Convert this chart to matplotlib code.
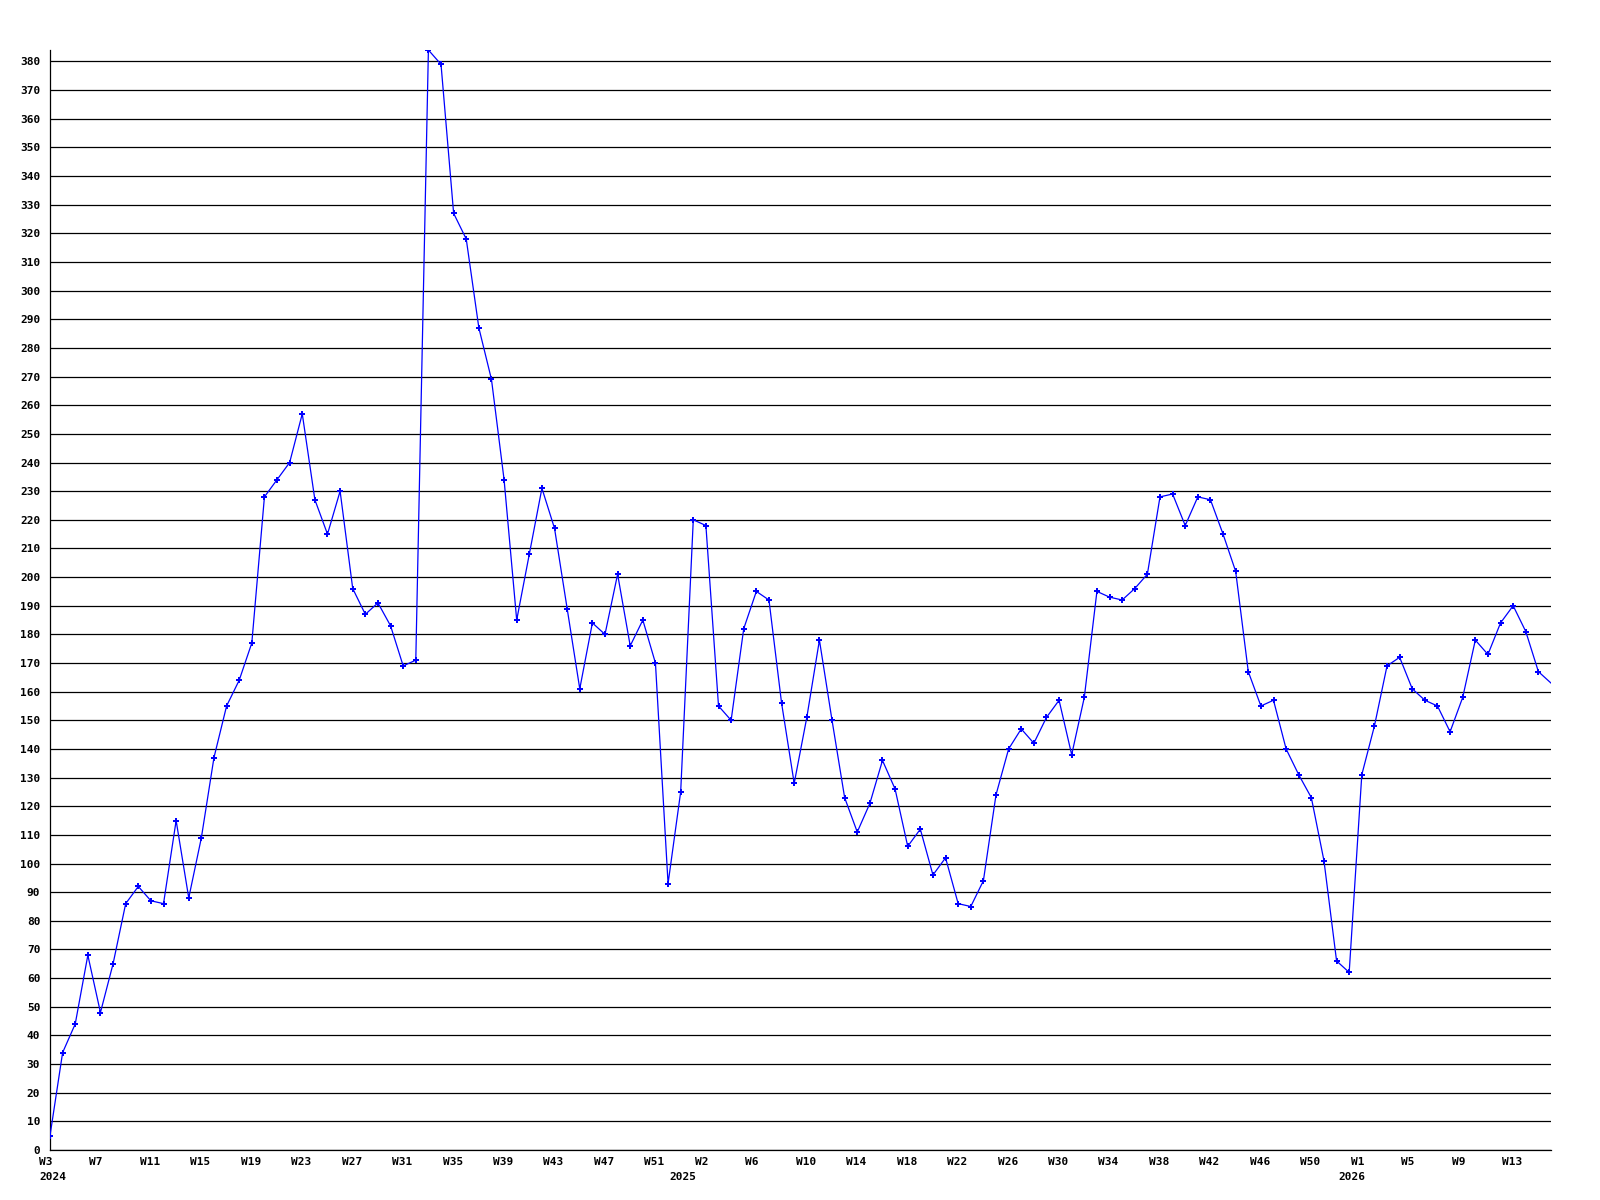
import numpy as np
import matplotlib
matplotlib.use("Agg")
import matplotlib.pyplot as plt

# ==============================
# Data (weekly counts, W3 2024 .. W16 2026)
# ==============================
years = [2024] * 51 + [2025] * 53 + [2026] * 16
weeks = list(range(3, 54)) + list(range(1, 54)) + list(range(1, 17))

values = [
    5, 34, 44, 68, 48, 65, 86, 92, 87, 86,
    115, 88, 109, 137, 155, 164, 177, 228, 234, 240,
    257, 227, 215, 230, 196, 187, 191, 183, 169, 171,
    384, 379, 327, 318, 287, 269, 234, 185, 208, 231,
    217, 189, 161, 184, 180, 201, 176, 185, 170, 93,
    125, 220, 218, 155, 150, 182, 195, 192, 156, 128,
    151, 178, 150, 123, 111, 121, 136, 126, 106, 112,
    96, 102, 86, 85, 94, 124, 140, 147, 142, 151,
    157, 138, 158, 195, 193, 192, 196, 201, 228, 229,
    218, 228, 227, 215, 202, 167, 155, 157, 140, 131,
    123, 101, 66, 62, 131, 148, 169, 172, 161, 157,
    155, 146, 158, 178, 173, 184, 190, 181, 167, 163,
]

y_ticks = list(range(0, 381, 10))

x = np.arange(len(values))

# ==============================
# Plot
# ==============================
fig = plt.figure(figsize=(16, 12), dpi=100)
ax = fig.add_axes([50 / 1600, 1 - 1150 / 1200, 1501 / 1600, 1100 / 1200])

ax.plot(x, values, color="#0000ff", linewidth=0.9,
        marker="P", markersize=4, markeredgewidth=0, markevery=slice(0, len(values) - 1),
        zorder=3)

ax.set_xlim(0, len(values) - 1)
ax.set_ylim(0, max(values))

# horizontal grid
for t in y_ticks:
    ax.axhline(t, color="black", linewidth=0.9, zorder=1)

for s in ["top", "right"]:
    ax.spines[s].set_visible(False)
ax.spines["left"].set_linewidth(0.9)
ax.spines["bottom"].set_linewidth(0.9)

mono = dict(family="DejaVu Sans Mono", fontsize=8, fontweight="bold")

ax.set_yticks(y_ticks)
ax.set_yticklabels([str(t) for t in y_ticks], **mono)
ax.tick_params(axis="y", length=0, pad=7)

ax.set_xticks([])

# week labels every 4 weeks, year under first week of each year
for i in range(0, len(values), 4):
    ax.annotate(f"W{weeks[i]}", xy=(i, 0), xycoords=("data", "axes fraction"),
                xytext=(-8, -5), textcoords="offset points",
                ha="left", va="top", **mono)

year_pos = [0] + [i for i in range(len(weeks)) if weeks[i] == 53]
for i in year_pos:
    lab = str(years[i]) if i == 0 else str(years[i] + 1)
    ax.annotate(lab, xy=(i, 0), xycoords=("data", "axes fraction"),
                xytext=(-8, -16), textcoords="offset points",
                ha="left", va="top", **mono)

fig.savefig("out.png", dpi=100, facecolor="white")
